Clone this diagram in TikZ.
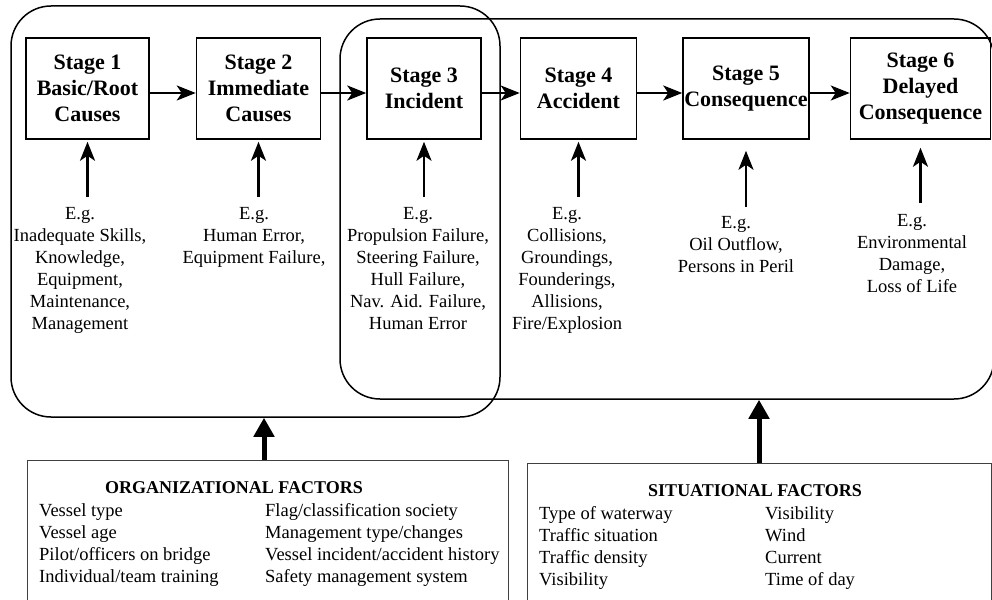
\documentclass[tikz,border=0pt]{standalone}
\usepackage{fontspec}
\setmainfont{Liberation Serif}
\usetikzlibrary{positioning, arrows.meta}

\begin{document}
\begin{tikzpicture}[x=1pt, y=-1pt,
    stagebox/.style={draw, line width=1.5pt, minimum height=101pt, inner sep=1pt, align=center, font=\fontsize{22}{26}\selectfont\bfseries},
    egtext/.style={anchor=north, inner sep=0pt, align=center, font=\fontsize{18.5}{22}\selectfont},
    frame/.style={draw, line width=1.5pt, rounded corners=40pt},
    factorbox/.style={draw=black!75, line width=0.8pt},
    factorhead/.style={anchor=north, inner sep=0pt, font=\fontsize{18}{22}\selectfont\bfseries},
    factorcol/.style={anchor=north west, inner sep=0pt, align=left, font=\fontsize{18.5}{22}\selectfont},
    flow/.style={line width=2.5pt, -{Stealth[length=19pt, width=15pt, inset=5pt]}},
    bigarrow/.style={line width=5pt, -{Triangle[length=19pt, width=20pt]}}
]
    \useasboundingbox (0,0) rectangle (992,599);

    % Grouping frames
    \node[frame, minimum width=489pt, minimum height=411pt] (pre) at (255.5,211.5) {};
    \node[frame, minimum width=654pt, minimum height=380pt] (post) at (667,209) {};

    % Stage boxes
    \node[stagebox, minimum width=123pt] (s1) at (87.5,88.5) {Stage 1\\Basic/Root\\Causes};
    \node[stagebox, minimum width=124pt, right=46pt of s1] (s2) {Stage 2\\Immediate\\Causes};
    \node[stagebox, minimum width=114pt, right=45pt of s2] (s3) {Stage 3\\Incident};
    \node[stagebox, minimum width=116pt, right=38pt of s3] (s4) {Stage 4\\Accident};
    \node[stagebox, minimum width=126pt, right=45pt of s4] (s5) {Stage 5\\Consequence};
    \node[stagebox, minimum width=140pt, right=40pt of s5] (s6) {Stage 6\\Delayed\\Consequence};

    \foreach \i/\j in {1/2,2/3,3/4,4/5,5/6}
        \draw[flow] ([yshift=-4.5pt]s\i.east) -- ([yshift=-4.5pt]s\j.west);

    % Examples under each stage
    \node[egtext] (eg1) at (80,207) {E.g.\\Inadequate Skills,\\Knowledge,\\Equipment,\\Maintenance,\\Management};
    \node[egtext] (eg2) at (254,207) {E.g.\\Human Error,\\Equipment Failure,};
    \node[egtext] (eg3) at (418,207) {E.g.\\Propulsion Failure,\\Steering Failure,\\Hull Failure,\\Nav. Aid. Failure,\\Human Error};
    \node[egtext] (eg4) at (567,207) {E.g.\\Collisions,\\Groundings,\\Founderings,\\Allisions,\\Fire/Explosion};
    \node[egtext] (eg5) at (736,216) {E.g.\\Oil Outflow,\\Persons in Peril};
    \node[egtext] (eg6) at (912,214) {E.g.\\Environmental\\Damage,\\Loss of Life};

    \foreach \i/\a/\b in {1/10/2, 2/10/2, 3/10/2, 4/10/2, 5/9/11, 6/11/8}
        \draw[flow] ([yshift=\a pt]eg\i.north -| s\i.south) -- ([yshift=-\b pt]s\i.south);

    % Factor boxes
    \node[factorbox, minimum width=481pt, minimum height=150pt] (orgf) at (267.5,535) {};
    \node[factorhead] (orghead) at (234,481) {ORGANIZATIONAL FACTORS};
    \node[factorcol] (orgl) at (39,503) {Vessel type\\Vessel age\\Pilot/officers on bridge\\Individual/team training};
    \node[factorcol] (orgr) at (265,503) {Flag/classification society\\Management type/changes\\Vessel incident/accident history\\Safety management system};

    \node[factorbox, minimum width=464pt, minimum height=147pt] (sitf) at (759,536.5) {};
    \node[factorhead] (sithead) at (755,484) {SITUATIONAL FACTORS};
    \node[factorcol] (sitl) at (539,506) {Type of waterway\\Traffic situation\\Traffic density\\Visibility};
    \node[factorcol] (sitr) at (765,506) {Visibility\\Wind\\Current\\Time of day};

    \draw[bigarrow] ([xshift=-3.5pt]orgf.north) -- ([xshift=-3.5pt]orgf.north |- pre.south);
    \draw[bigarrow] (sitf.north) -- (sitf.north |- post.south);

\end{tikzpicture}
\end{document}
